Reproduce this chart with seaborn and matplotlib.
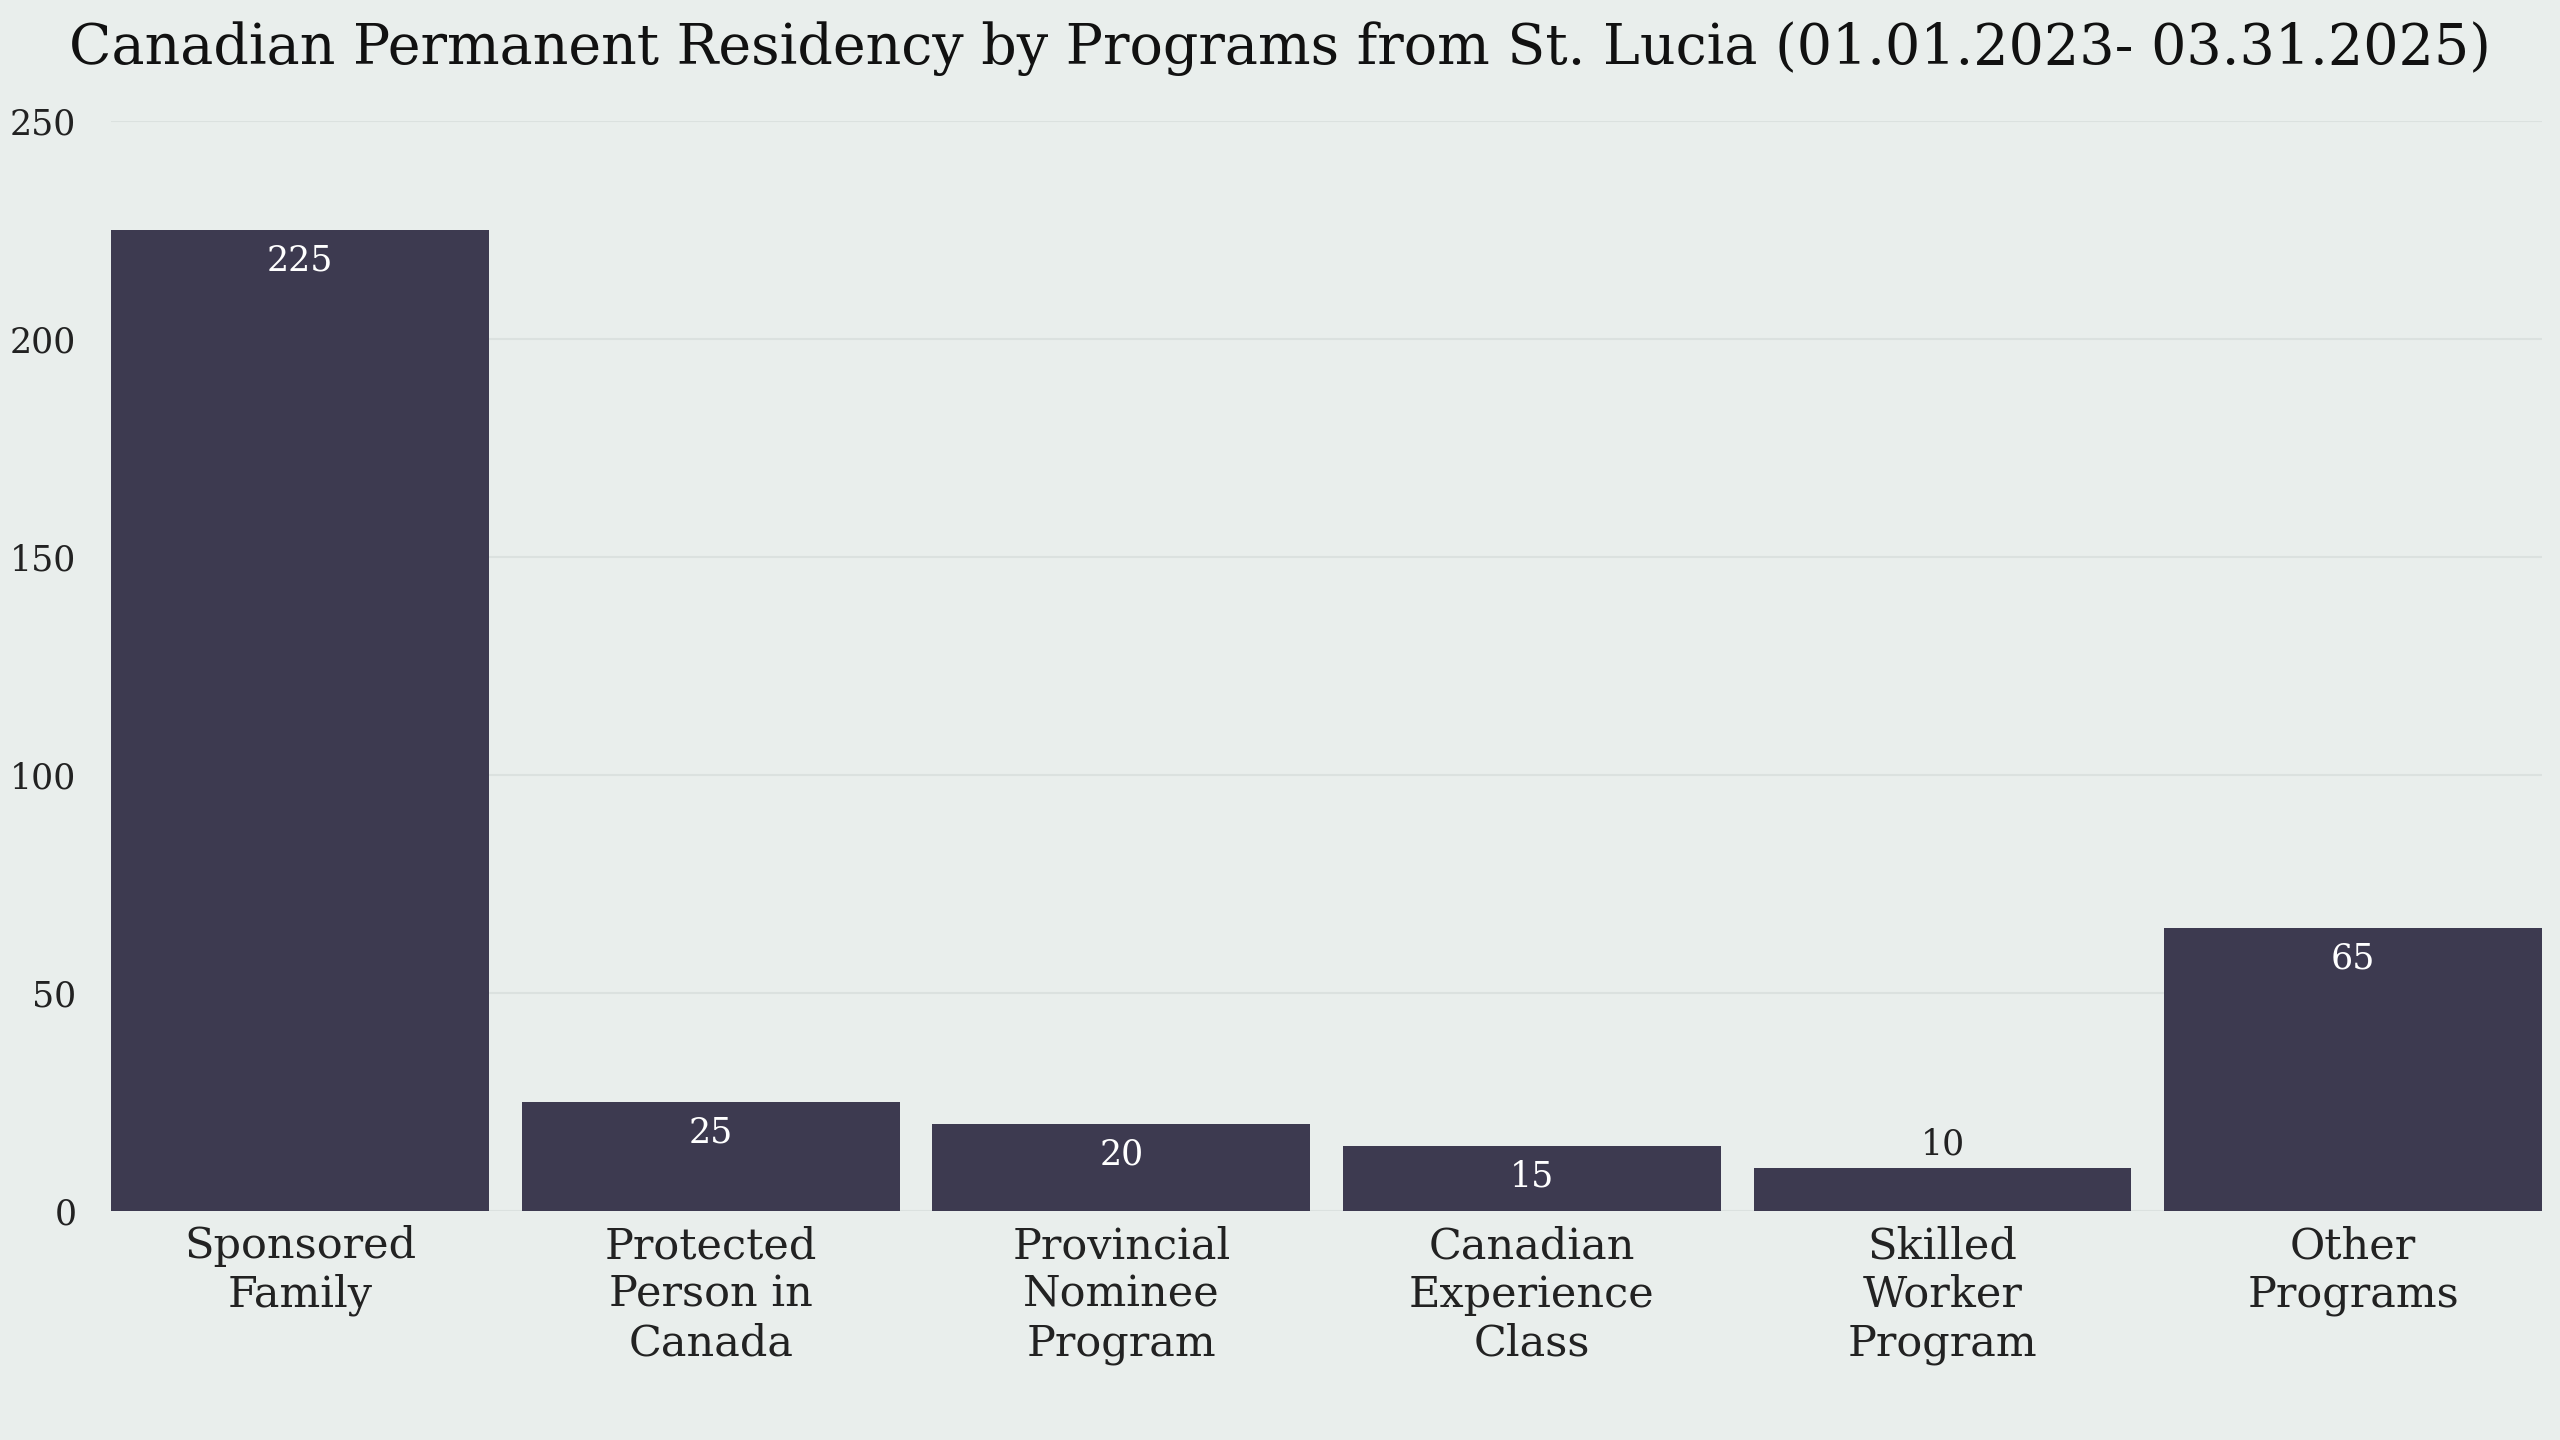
import matplotlib
matplotlib.use("Agg")
import matplotlib.pyplot as plt
import seaborn as sns
import pandas as pd

categories = ["Sponsored\nFamily", "Protected\nPerson in\nCanada", "Provincial\nNominee\nProgram",
              "Canadian\nExperience\nClass", "Skilled\nWorker\nProgram", "Other\nPrograms"]
values = [225, 25, 20, 15, 10, 65]
yticks = [0, 50, 100, 150, 200, 250]

bg = "#e9eeec"
bar_c = "#3d3a50"
plt.rcParams["font.family"] = "DejaVu Serif"

fig = plt.figure(figsize=(25.6, 14.4), dpi=100, facecolor=bg)
ax = fig.add_axes([0.0434, 0.1587, 0.9496, 0.7573], facecolor=bg)
df = pd.DataFrame({"cat": categories, "val": values})
sns.barplot(data=df, x="cat", y="val", color=bar_c, width=0.92, saturation=1, ax=ax, zorder=2)
ax.set_xlim(-0.46, 5.46)
ax.set_ylim(0, 250)
ax.set_yticks(yticks)
ax.grid(axis="y", color="#dbe1df", linewidth=1.5, zorder=0)
for s in ax.spines.values():
    s.set_visible(False)
ax.tick_params(axis="both", length=0)
ax.tick_params(axis="y", labelsize=25, pad=25, colors="#222222")
ax.tick_params(axis="x", labelsize=31, pad=10, colors="#222222")
ax.set_xlabel("")
ax.set_ylabel("")
for i, v in enumerate(values):
    if v >= 15:
        ax.text(i, v - 3, str(v), ha="center", va="top", color="white", fontsize=25, zorder=3)
    else:
        ax.text(i, v + 1.5, str(v), ha="center", va="bottom", color="#222222", fontsize=25, zorder=3)
fig.suptitle("Canadian Permanent Residency by Programs from St. Lucia (01.01.2023- 03.31.2025)",
             y=0.985, va="top", fontsize=40, color="#111111")
fig.savefig("out.png", facecolor=bg)
